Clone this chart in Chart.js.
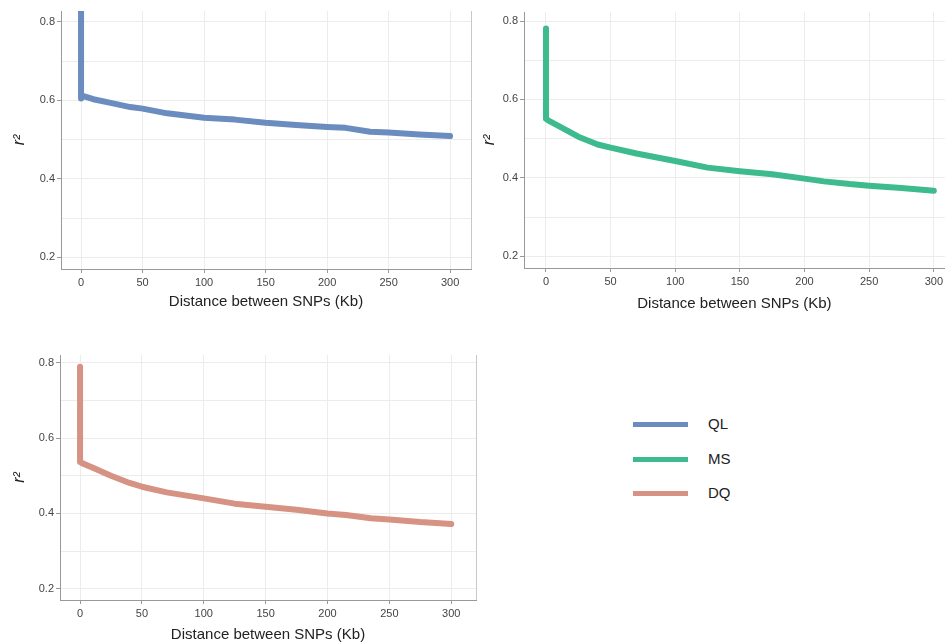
<!DOCTYPE html>
<html>
<head>
<meta charset="utf-8">
<script src="https://cdn.jsdelivr.net/npm/chart.js@4/dist/chart.umd.min.js"></script>
<style>
  html, body { margin: 0; padding: 0; background: #fff; }
  body { width: 946px; height: 644px; position: relative; overflow: hidden; font-family: "Liberation Sans", Arial, sans-serif; }
  .panel { position: absolute; }
  .legend { position: absolute; left: 633px; top: 410px; }
  .legend .row { position: relative; height: 34.5px; }
  .legend .swatch { position: absolute; left: 0; top: 12px; width: 55px; height: 5px; }
  .legend .lbl { position: absolute; left: 75px; top: 5px; font-size: 15px; color: #222; }
</style>
</head>
<body>
<div class="panel" style="left:0;top:0;width:480px;height:320px"><canvas id="qlChart"></canvas></div>
<div class="panel" style="left:480px;top:0;width:466px;height:320px"><canvas id="msChart"></canvas></div>
<div class="panel" style="left:0;top:340px;width:480px;height:304px"><canvas id="dqChart"></canvas></div>
<div class="legend" id="legend"></div>
<script>
  // ---- Data ----
  const distanceKb = [0, 0, 2, 10, 25, 40, 50, 70, 100, 125, 150, 175, 200, 215, 235, 250, 275, 300];
  const qlR2 = [0.835, 0.605, 0.611, 0.603, 0.593, 0.583, 0.579, 0.567, 0.556, 0.551, 0.543, 0.537, 0.532, 0.530, 0.520, 0.518, 0.513, 0.509];
  const msR2 = [0.781, 0.551, 0.546, 0.532, 0.505, 0.485, 0.477, 0.462, 0.443, 0.426, 0.417, 0.409, 0.398, 0.391, 0.384, 0.380, 0.374, 0.367];
  const dqR2 = [0.790, 0.537, 0.533, 0.522, 0.500, 0.481, 0.471, 0.456, 0.440, 0.426, 0.418, 0.410, 0.400, 0.396, 0.387, 0.384, 0.377, 0.372];
  const xTicks = [0, 50, 100, 150, 200, 250, 300];
  const yTicks = [0.2, 0.3, 0.4, 0.5, 0.6, 0.7, 0.8];
  const yLabelled = [0.2, 0.4, 0.6, 0.8];
  const seriesNames = ['QL', 'MS', 'DQ'];
  const seriesColors = ['#6a8cbe', '#3dbb8e', '#d69282'];

  const isLabelled = v => yLabelled.some(t => Math.abs(t - v) < 1e-6);

  // right frame edge (light grey)
  const rightFrame = {
    id: 'rightFrame',
    afterDraw(chart, args, opts) {
      if (!opts.show) return;
      const { ctx, chartArea } = chart;
      ctx.save();
      ctx.strokeStyle = '#c8c8c8';
      ctx.lineWidth = 1;
      ctx.beginPath();
      ctx.moveTo(Math.round(chartArea.right) + 0.5, chartArea.top);
      ctx.lineTo(Math.round(chartArea.right) + 0.5, chartArea.bottom);
      ctx.stroke();
      ctx.restore();
    }
  };

  function makePanel(id, name, values, color, cfg) {
    new Chart(document.getElementById(id), {
      type: 'line',
      data: {
        datasets: [{
          label: name,
          data: distanceKb.map((d, i) => ({ x: d, y: values[i] })),
          borderColor: color,
          borderWidth: 6,
          borderCapStyle: 'round',
          borderJoinStyle: 'round',
          pointRadius: 0,
          tension: 0,
        }]
      },
      options: {
        responsive: true,
        maintainAspectRatio: false,
        animation: false,
        layout: { padding: { top: cfg.padTop, right: cfg.padRight, left: 0, bottom: 0 } },
        plugins: { legend: { display: false }, tooltip: { enabled: false }, rightFrame: { show: cfg.rightFrame } },
        scales: {
          x: {
            type: 'linear',
            min: cfg.xMin, max: cfg.xMax,
            afterBuildTicks: axis => { axis.ticks = xTicks.map(v => ({ value: v })); },
            afterFit: axis => { axis.height = cfg.xHeight; },
            grid: { color: '#ececec', tickColor: '#999', tickLength: 4 },
            border: { color: '#999' },
            ticks: { color: '#444', font: { size: 11 }, padding: 3, maxRotation: 0 },
            title: { display: true, text: 'Distance between SNPs (Kb)', color: '#222', font: { size: 15 }, padding: { top: 0, bottom: cfg.xTitlePad } }
          },
          y: {
            min: 0.17, max: cfg.yMax,
            afterBuildTicks: axis => { axis.ticks = yTicks.map(v => ({ value: v })); },
            afterFit: axis => { axis.width = cfg.yWidth; },
            grid: { color: '#ececec', tickColor: c => isLabelled(c.tick.value) ? '#999' : 'rgba(0,0,0,0)', tickLength: 4 },
            border: { color: '#999' },
            ticks: { color: '#444', font: { size: 11 }, padding: 2, callback: v => isLabelled(v) ? v.toFixed(1) : '' },
            title: { display: true, text: 'r²', color: '#222', font: { size: 16, style: 'italic' }, padding: { top: cfg.yTitlePad, bottom: 0 } }
          }
        }
      },
      plugins: [rightFrame]
    });
  }

  makePanel('qlChart', seriesNames[0], qlR2, seriesColors[0],
    { padTop: 11, padRight: 9, xMin: -16.3, xMax: 317, yMax: 0.828, xHeight: 51, yWidth: 61, xTitlePad: 9, yTitlePad: 10, rightFrame: true });
  makePanel('msChart', seriesNames[1], msR2, seriesColors[1],
    { padTop: 12, padRight: 0, xMin: -17, xMax: 308.5, yMax: 0.823, xHeight: 52, yWidth: 44, xTitlePad: 7, yTitlePad: 0, rightFrame: false });
  makePanel('dqChart', seriesNames[2], dqR2, seriesColors[2],
    { padTop: 15, padRight: 4, xMin: -16.2, xMax: 320, yMax: 0.821, xHeight: 44, yWidth: 60, xTitlePad: 0, yTitlePad: 10, rightFrame: true });

  // ---- Legend ----
  const legend = document.getElementById('legend');
  seriesNames.forEach((n, i) => {
    const row = document.createElement('div');
    row.className = 'row';
    row.innerHTML = `<div class="swatch" style="background:${seriesColors[i]}"></div><div class="lbl">${n}</div>`;
    legend.appendChild(row);
  });
</script>
</body>
</html>
